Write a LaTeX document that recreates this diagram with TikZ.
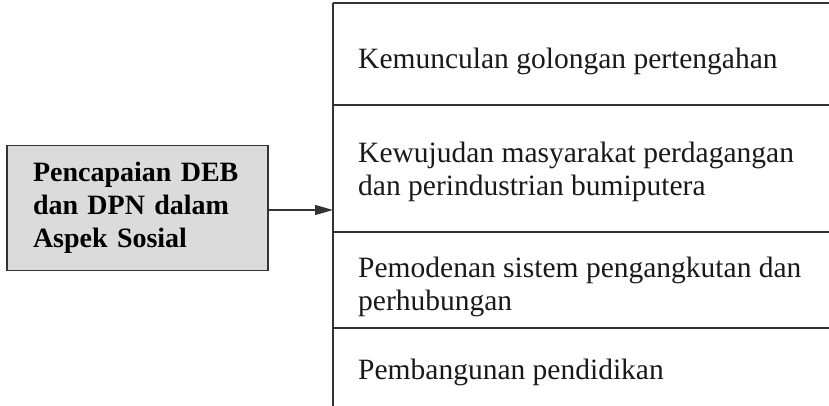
\documentclass[tikz,border=0pt]{standalone}
\usepackage{fontspec}
\setmainfont{Liberation Serif}
\usetikzlibrary{arrows,arrows.meta}
\definecolor{linegray}{gray}{0.2}
\definecolor{boxgray}{gray}{0.86}
\tikzstyle{topic}=[draw=linegray,fill=boxgray,line width=1.2pt,minimum width=261pt,minimum height=125pt,text width=209pt,inner xsep=26pt,inner ysep=0pt,align=left,font=\fontsize{28}{33}\selectfont\bfseries]
\tikzstyle{item}=[anchor=west,inner sep=0pt,align=left,font=\fontsize{29.5}{33}\selectfont,text=black!90]
\tikzstyle{rule}=[draw=linegray,line width=1.2pt]
\tikzstyle{edge}=[draw=linegray,line width=1.2pt,-{Triangle[length=18pt,width=10pt]}]

\begin{document}
\begin{tikzpicture}[x=1pt,y=-1pt]
\useasboundingbox (0,0) rectangle (829,406);
% box on the left
\node[topic] (aspek) at (137.5,208) {Pencapaian DEB\\dan DPN dalam\\Aspek Sosial};

% column of achievements
\coordinate (top) at (333,3);
\coordinate (bot) at (333,406);
\path[rule] (top) -- (bot);
\foreach \y/\name in {3/r0, 105/r1, 232/r2, 328/r3}
  \path[rule] (333,\y) coordinate (\name) -- (829,\y);

\foreach \y/\name/\txt in {61/hasil1/{Kemunculan golongan pertengahan},
                          172/hasil2/{Kewujudan masyarakat perdagangan\\dan perindustrian bumiputera},
                          287/hasil3/{Pemodenan sistem pengangkutan dan\\perhubungan},
                          372/hasil4/{Pembangunan pendidikan}}
  \node[item] (\name) at (358,\y) {\txt};

% arrow into the column
\coordinate (tip) at (333,210);
\path[edge] (tip -| aspek.east) -- (tip);
\end{tikzpicture}
\end{document}
